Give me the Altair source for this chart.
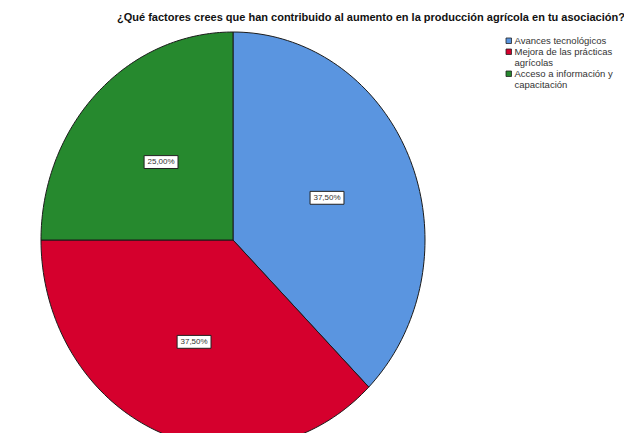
import json
import altair as alt
import pandas as pd

title_text = "¿Qué factores crees que han contribuido al aumento en la producción agrícola en tu asociación?"
categories = [
    "Avances tecnológicos",
    "Mejora de las prácticas agrícolas",
    "Acceso a información y capacitación",
]
percentages = [37.5, 37.5, 25.0]
colors = ["#5A95E0", "#D5002D", "#26892E"]
legend_lines = [
    ["Avances tecnológicos"],
    ["Mejora de las prácticas", "agrícolas"],
    ["Acceso a información y", "capacitación"],
]

df = pd.DataFrame({"factor": categories, "pct": percentages, "idx": list(range(len(categories)))})

# legend label wrapping expression built from the lists
expr = "datum.label"
for cat, lines in zip(reversed(categories), reversed(legend_lines)):
    expr = f"datum.label == {json.dumps(cat, ensure_ascii=False)} ? {json.dumps(lines, ensure_ascii=False)} : ({expr})"

N = 90
xs = alt.Scale(domain=[-1, 1], range=[0, 384], nice=False, zero=False)
ys = alt.Scale(domain=[-1, 1], range=[416, 0], nice=False, zero=False)

base = (
    alt.Chart(df)
    .transform_joinaggregate(total="sum(pct)")
    .transform_window(cum="sum(pct)", sort=[alt.SortField("idx")], frame=[None, 0])
    .transform_calculate(
        a0="(datum.cum - datum.pct) / datum.total * 2 * PI",
        a1="datum.cum / datum.total * 2 * PI",
    )
)

slices = (
    base.transform_calculate(seq=f"sequence(-1, {N + 1})")
    .transform_flatten(["seq"])
    .transform_calculate(
        ang=f"datum.a0 + (datum.a1 - datum.a0) * max(datum.seq, 0) / {N}",
        px="datum.seq < 0 ? 0 : sin(datum.ang)",
        py="datum.seq < 0 ? 0 : cos(datum.ang)",
    )
    .mark_line(interpolate="linear-closed", stroke="#1b1b1b", strokeWidth=1, strokeJoin="round")
    .encode(
        x=alt.X("px:Q", scale=xs, axis=None),
        y=alt.Y("py:Q", scale=ys, axis=None),
        fill=alt.Fill(
            "factor:N",
            scale=alt.Scale(domain=categories, range=colors),
            sort=categories,
            legend=alt.Legend(
                title=None,
                orient="none",
                legendX=463,
                legendY=4,
                padding=0,
                symbolType="square",
                symbolSize=30,
                symbolStrokeColor="#222222",
                symbolStrokeWidth=0.8,
                labelFont="Liberation Sans",
                labelFontSize=9.5,
                labelColor="#333333",
                labelOffset=1,
                labelLimit=200,
                rowPadding=0,
                labelExpr=expr,
            ),
        ),
        detail="factor:N",
        order="seq:Q",
    )
)

lab = base.transform_calculate(
    mid="(datum.a0 + datum.a1) / 2",
    lx="0.53 * sin(datum.mid)",
    ly="0.53 * cos(datum.mid)",
    txt="replace(format(datum.pct, '.2f'), '.', ',') + '%'",
)

boxes = lab.mark_point(
    shape="M-1,-0.38L1,-0.38L1,0.38L-1,0.38Z",
    size=1150,
    filled=True,
    fill="white",
    stroke="#222222",
    strokeWidth=1,
    opacity=1,
).encode(
    x=alt.X("lx:Q", scale=xs, axis=None),
    y=alt.Y("ly:Q", scale=ys, axis=None),
)

texts = lab.mark_text(font="Liberation Sans", fontSize=8, color="#333333").encode(
    x=alt.X("lx:Q", scale=xs, axis=None),
    y=alt.Y("ly:Q", scale=ys, axis=None),
    text="txt:N",
)

chart = (
    alt.layer(slices, boxes, texts)
    .properties(
        width=384,
        height=401,
        autosize=alt.AutoSizeParams(type="none"),
        padding={"left": 33, "top": 24, "right": 199, "bottom": 0},
        title=alt.TitleParams(
            title_text,
            anchor="start",
            frame="group",
            dx=76,
            offset=9,
            font="Liberation Sans",
            fontSize=11,
            fontWeight="bold",
            color="#111111",
        ),
    )
    .configure_view(stroke=None)
)

chart.save("out.html", embed_options={"renderer": "svg", "actions": False})
